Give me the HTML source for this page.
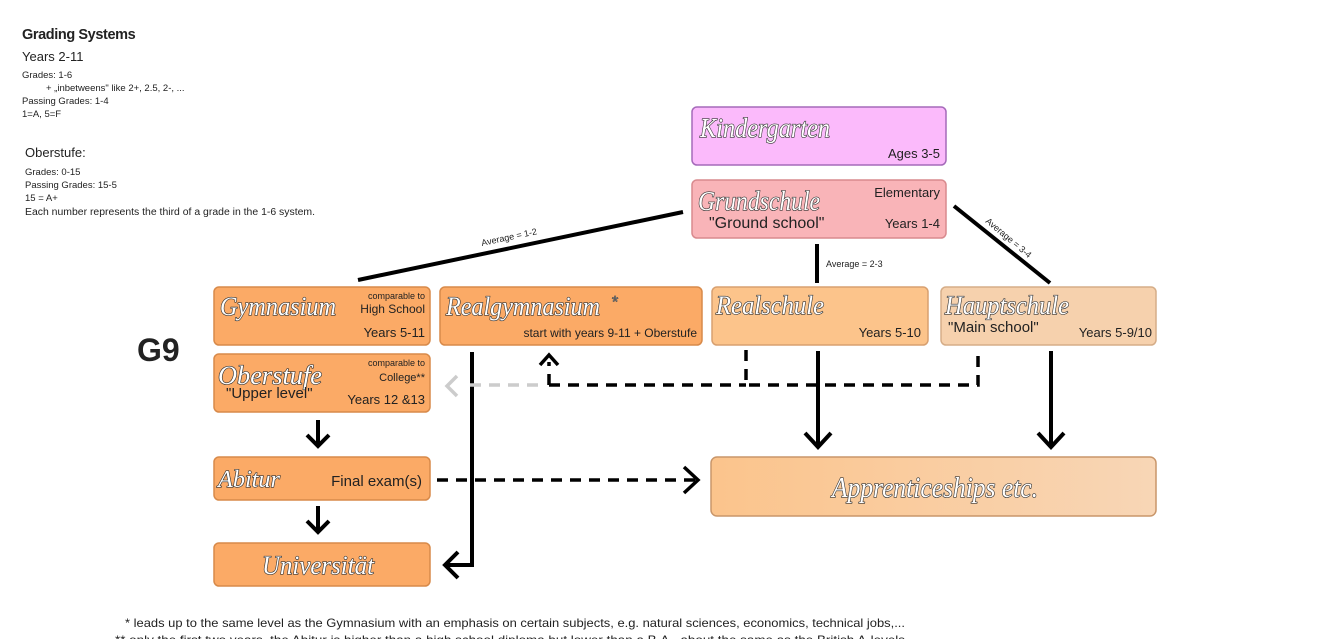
<!DOCTYPE html>
<html><head><meta charset="utf-8"><style>
html,body{margin:0;padding:0;background:#fff;}
svg{display:block;font-family:"Liberation Sans",sans-serif;}
.s{font-family:"Liberation Serif",serif;font-style:italic;fill:#fff;stroke:#333;stroke-width:1.3;paint-order:stroke;}
.t{fill:#222;}
</style></head><body>
<svg width="1320" height="639" viewBox="0 0 1320 639" xmlns="http://www.w3.org/2000/svg">
<defs>
<linearGradient id="ap" x1="0" x2="1"><stop offset="0" stop-color="#fbc48c"/><stop offset="1" stop-color="#f8d6b6"/></linearGradient>
</defs>
<g class="t">
<text x="22" y="39" font-size="14.5" font-weight="bold" letter-spacing="-0.4">Grading Systems</text>
<text x="22" y="61" font-size="13">Years 2-11</text>
<text x="22" y="78" font-size="9.5">Grades: 1-6</text>
<text x="46" y="91" font-size="9.5">+ „inbetweens" like 2+, 2.5, 2-, ...</text>
<text x="22" y="104" font-size="9.5">Passing Grades: 1-4</text>
<text x="22" y="117" font-size="9.5">1=A, 5=F</text>
<text x="25" y="157" font-size="13">Oberstufe:</text>
<text x="25" y="175" font-size="9.5">Grades: 0-15</text>
<text x="25" y="188" font-size="9.5">Passing Grades: 15-5</text>
<text x="25" y="201" font-size="9.5">15 = A+</text>
<text x="25" y="215" font-size="10" textLength="290" lengthAdjust="spacingAndGlyphs">Each number represents the third of a grade in the 1-6 system.</text>
<text x="137" y="361" font-size="32" font-weight="bold">G9</text>
</g>
<g stroke-width="1.5">
<rect x="692" y="107" width="254" height="58" rx="5" fill="#fbbafb" stroke="#a56aba"/>
<rect x="692" y="180" width="254" height="58" rx="5" fill="#f9b4b8" stroke="#d98a8e"/>
<rect x="214" y="287" width="216" height="58" rx="5" fill="#fbaa66" stroke="#d88a4a"/>
<rect x="440" y="287" width="262" height="58" rx="5" fill="#fbaa66" stroke="#d88a4a"/>
<rect x="712" y="287" width="216" height="58" rx="5" fill="#fcc48b" stroke="#d8a070"/>
<rect x="941" y="287" width="215" height="58" rx="5" fill="#f6d1ad" stroke="#d5ad88"/>
<rect x="214" y="354" width="216" height="58" rx="5" fill="#fbaa66" stroke="#d88a4a"/>
<rect x="214" y="457" width="216" height="43" rx="5" fill="#fbaa66" stroke="#d88a4a"/>
<rect x="214" y="543" width="216" height="43" rx="5" fill="#fbaa66" stroke="#d88a4a"/>
<rect x="711" y="457" width="445" height="59" rx="6" fill="url(#ap)" stroke="#c9966a"/>
</g>
<text class="s" x="700" y="137" font-size="27" textLength="130" lengthAdjust="spacingAndGlyphs">Kindergarten</text>
<text class="s" x="698" y="210" font-size="27" textLength="122" lengthAdjust="spacingAndGlyphs">Grundschule</text>
<text class="s" x="220" y="315" font-size="26" textLength="116" lengthAdjust="spacingAndGlyphs">Gymnasium</text>
<text class="s" x="446" y="315" font-size="26" textLength="154" lengthAdjust="spacingAndGlyphs">Realgymnasium</text>
<text x="612" y="307" font-size="16" fill="#fff" stroke="#555" stroke-width="0.8">*</text>
<text class="s" x="716" y="314" font-size="26" textLength="108" lengthAdjust="spacingAndGlyphs">Realschule</text>
<text class="s" x="945" y="314" font-size="26" textLength="124" lengthAdjust="spacingAndGlyphs">Hauptschule</text>
<text class="s" x="218" y="384" font-size="26" textLength="104" lengthAdjust="spacingAndGlyphs">Oberstufe</text>
<text class="s" x="218" y="487" font-size="24" textLength="62" lengthAdjust="spacingAndGlyphs">Abitur</text>
<text class="s" x="262" y="574" font-size="26" textLength="112" lengthAdjust="spacingAndGlyphs">Universität</text>
<text class="s" x="832" y="497" font-size="28" textLength="206" lengthAdjust="spacingAndGlyphs">Apprenticeships  etc.</text>
<g class="t">
<text x="940" y="158" font-size="13" text-anchor="end">Ages 3-5</text>
<text x="940" y="197" font-size="13" text-anchor="end">Elementary</text>
<text x="709" y="228" font-size="16">"Ground school"</text>
<text x="940" y="228" font-size="13" text-anchor="end">Years 1-4</text>
<text x="425" y="299" font-size="9" text-anchor="end">comparable to</text>
<text x="425" y="313" font-size="12" text-anchor="end">High School</text>
<text x="425" y="337" font-size="13" text-anchor="end">Years 5-11</text>
<text x="697" y="337" font-size="12" text-anchor="end">start with years 9-11 + Oberstufe</text>
<text x="921" y="337" font-size="13" text-anchor="end">Years 5-10</text>
<text x="948" y="332" font-size="15">"Main school"</text>
<text x="1152" y="337" font-size="13" text-anchor="end">Years 5-9/10</text>
<text x="425" y="366" font-size="9" text-anchor="end">comparable to</text>
<text x="425" y="381" font-size="11" text-anchor="end">College**</text>
<text x="226" y="398" font-size="15">"Upper level"</text>
<text x="425" y="404" font-size="13" text-anchor="end">Years 12 &amp;13</text>
<text x="422" y="486" font-size="15" text-anchor="end">Final exam(s)</text>
<text x="826" y="267" font-size="9">Average = 2-3</text>
<text x="482" y="246" font-size="9" transform="rotate(-12 482 246)">Average = 1-2</text>
<text x="985" y="222" font-size="9" transform="rotate(40 985 222)">Average = 3-4</text>
<text x="125" y="627" font-size="12" textLength="780" lengthAdjust="spacingAndGlyphs">* leads up to the same level as the Gymnasium with an emphasis on certain subjects, e.g. natural sciences, economics, technical jobs,...</text>
<text x="115" y="644" font-size="12" textLength="790" lengthAdjust="spacingAndGlyphs">** only the first two years, the Abitur is higher than a high school diploma but lower than a B.A., about the same as the British A-levels</text>
</g>
<g stroke="#000" stroke-width="4" fill="none">
<line x1="683" y1="212" x2="358" y2="280"/>
<line x1="817" y1="244" x2="817" y2="283"/>
<line x1="954" y1="206" x2="1050" y2="283"/>
<line x1="818" y1="351" x2="818" y2="446"/>
<polyline points="805,433 818,447 831,433"/>
<line x1="1051" y1="351" x2="1051" y2="446"/>
<polyline points="1038,433 1051,447 1064,433"/>
<polyline points="472,352 472,565 446,565"/>
<polyline points="458,552 445,565 458,578"/>
<line x1="318" y1="420" x2="318" y2="446"/>
<polyline points="307,435 318,446 329,435"/>
<line x1="318" y1="506" x2="318" y2="532"/>
<polyline points="307,521 318,532 329,521"/>
<g stroke-dasharray="11,8" stroke-width="3.5">
<line x1="437" y1="480" x2="696" y2="480"/>
<polyline points="746,350 746,385 978,385 978,350"/>
<line x1="549" y1="385" x2="746" y2="385"/>
<line x1="549" y1="385" x2="549" y2="362"/>
</g>
<polyline points="684,467 698,480 684,493" stroke-width="3.5"/>
<polyline points="540,365 549,355 558,365" stroke-width="3.5"/>
<line x1="470" y1="385" x2="540" y2="385" stroke="#ccc" stroke-dasharray="11,8" stroke-width="3.5"/>
<polyline points="457,376 447,386 457,396" stroke="#ccc" stroke-width="3.5"/>
</g>
</svg>
</body></html>
